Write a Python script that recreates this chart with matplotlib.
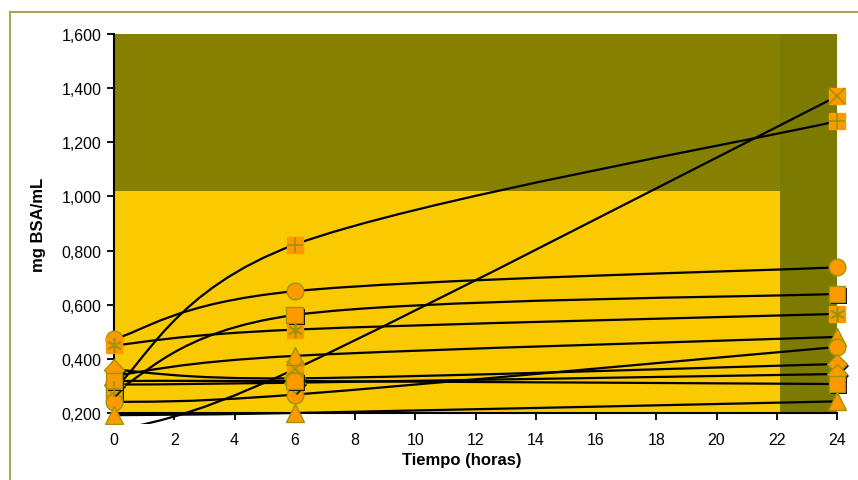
import numpy as np
import matplotlib
matplotlib.use("Agg")
from matplotlib import pyplot as plt
from matplotlib.path import Path
from matplotlib.patches import PathPatch, Rectangle
from matplotlib.lines import Line2D
from matplotlib.ticker import FuncFormatter, MultipleLocator
import matplotlib.patheffects as pe

plt.rcParams['font.family'] = ['Liberation Sans', 'DejaVu Sans']

# sampling times (hours)
horas = [0, 6, 24]

# protein concentration per sample (mg BSA/mL)
serie_circulo = [0.473, 0.650, 0.738]
serie_asterisco = [0.450, 0.508, 0.566]
serie_mas = [0.290, 0.822, 1.278]
serie_equis = [0.130, 0.362, 1.370]
serie_cuadro = [0.280, 0.562, 0.640]
serie_triangulo = [0.338, 0.411, 0.481]
serie_circulo2 = [0.240, 0.268, 0.444]
serie_rombo = [0.360, 0.328, 0.381]
serie_rombo2 = [0.305, 0.312, 0.344]
serie_cuadro2 = [0.318, 0.318, 0.307]
serie_triangulo2 = [0.192, 0.200, 0.243]

series = [
    (serie_circulo, 'o'), (serie_asterisco, 'ast'), (serie_mas, 'plus'),
    (serie_equis, 'x'), (serie_cuadro, 's'), (serie_triangulo, '^'),
    (serie_circulo2, 'o'), (serie_rombo, 'D'), (serie_rombo2, 'D'),
    (serie_cuadro2, 's'), (serie_triangulo2, '^'),
]

naranja = '#FF9900'
borde = '#A09400'


def curva_suave(xs, ys):
    # Excel-style smoothed line: cubic Bezier segments with Catmull-Rom tangents
    p = np.column_stack([xs, ys]).astype(float)
    n = len(p)
    verts = [p[0]]
    codes = [Path.MOVETO]
    for i in range(n - 1):
        p0 = p[max(i - 1, 0)]
        p3 = p[min(i + 2, n - 1)]
        c1 = p[i] + (p[i + 1] - p0) / 6.0
        c2 = p[i + 1] - (p3 - p[i]) / 6.0
        verts += [c1, c2, p[i + 1]]
        codes += [Path.CURVE4] * 3
    return Path(verts, codes)


fig = plt.figure(figsize=(8.58, 4.81), dpi=100)
ax = fig.add_axes([0.1329, 0.1393, 0.8427, 0.7879])
ax.set_xlim(0, 24)
ax.set_ylim(0.2, 1.6)
ax.set_facecolor('#868000')

# background bands
ax.add_patch(Rectangle((22.1, 0.2), 1.9, 1.4, facecolor='#7C7B00', edgecolor='none', zorder=0))
ax.add_patch(Rectangle((0, 0.2), 22.1, 0.82, facecolor='#FACA00', edgecolor='none', zorder=0))

clip = Rectangle((-0.025, -0.03), 1.05, 1.06, transform=ax.transAxes)

sombra = [pe.SimplePatchShadow(offset=(1.5, -1.5), shadow_rgbFace='black', alpha=1.0), pe.Normal()]

for ys, m in series:
    linea = PathPatch(curva_suave(horas, ys), fill=False, edgecolor='black',
                      linewidth=1.6, zorder=3, transform=ax.transData)
    ax.add_patch(linea)
    linea.set_clip_path(clip)
    kw = dict(linestyle='none', zorder=4, clip_on=True)
    if m in ('ast', 'plus', 'x'):
        cuadro, = ax.plot(horas, ys, marker='s', markersize=12, markerfacecolor=naranja,
                          markeredgecolor=naranja, **kw)
        sym = {'ast': (6, 2, 0), 'plus': '+', 'x': 'x'}[m]
        cruz, = ax.plot(horas, ys, marker=sym, markersize=11, markeredgecolor=borde,
                        markeredgewidth=1.2, linestyle='none', zorder=5)
        cuadro.set_clip_path(clip)
        cruz.set_clip_path(clip)
    else:
        size = {'o': 12, 's': 12, 'D': 10.5, '^': 12.5}[m]
        mk, = ax.plot(horas, ys, marker=m, markersize=size, markerfacecolor=naranja,
                      markeredgecolor=borde, markeredgewidth=1.0, **kw)
        if m in ('s', 'D'):
            mk.set_path_effects(sombra)
        mk.set_clip_path(clip)

for s in ('top', 'right'):
    ax.spines[s].set_visible(False)
for s in ('left', 'bottom'):
    ax.spines[s].set_linewidth(1.5)
    ax.spines[s].set_color('black')
    ax.spines[s].set_zorder(2)

ax.xaxis.set_major_locator(MultipleLocator(2))
ax.yaxis.set_major_locator(MultipleLocator(0.2))
ax.yaxis.set_major_formatter(FuncFormatter(lambda v, _: f"{v:.3f}".replace('.', ',')))
ax.tick_params(axis='both', direction='out', length=5, width=1.3, colors='black',
               labelsize=11.5)
ax.tick_params(axis='x', pad=9)
ax.tick_params(axis='y', pad=4)

fig.text(0.538, 1 - 460 / 481, 'Tiempo (horas)', ha='center', va='center',
         fontsize=12, fontweight='bold')
fig.text(38 / 858, 1 - 225 / 481, 'mg BSA/mL', ha='center', va='center',
         rotation=90, fontsize=12, fontweight='bold')

# outer frame
fig.add_artist(Line2D([10 / 858, 1], [1 - 13 / 481] * 2, transform=fig.transFigure,
                      color='#A8A458', linewidth=1.5))
fig.add_artist(Line2D([10 / 858] * 2, [0, 1 - 13 / 481], transform=fig.transFigure,
                      color='#A8A458', linewidth=1.5))

fig.savefig('out.png', dpi=100)
